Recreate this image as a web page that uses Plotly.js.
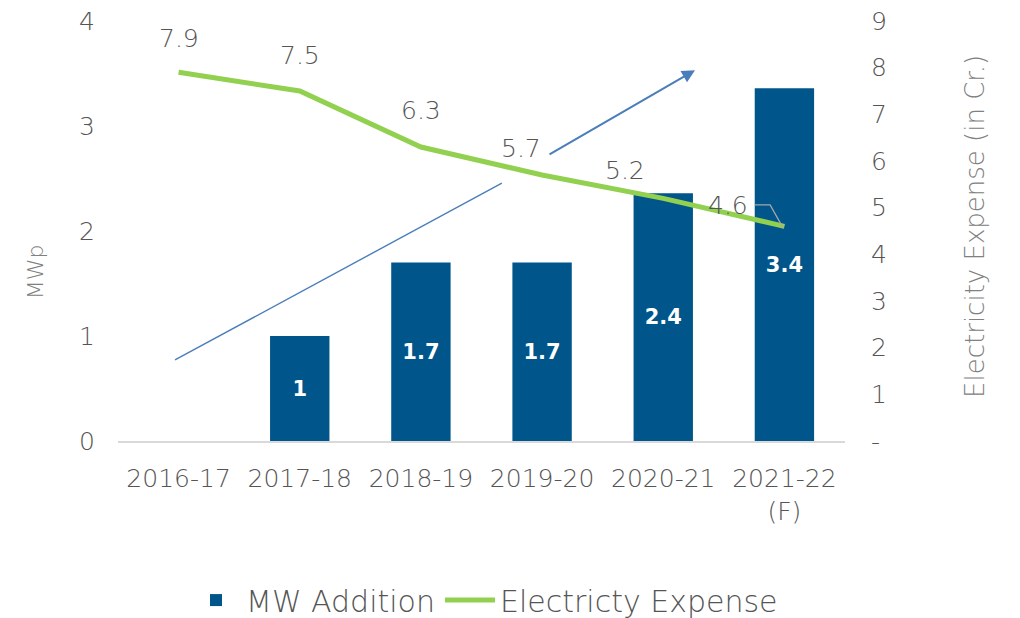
<!DOCTYPE html>
<html>
<head>
<meta charset="utf-8">
<script src="https://cdn.plot.ly/plotly-3.0.1.min.js"></script>
<style>html,body{margin:0;padding:0;background:#fff;}#chart{width:1020px;height:618px;}</style>
</head>
<body>
<div id="chart"></div>
<script>
const categories = ['2016-17', '2017-18', '2018-19', '2019-20', '2020-21', '2021-22<br>(F)'];
const mwAddition = [0, 1, 1.7, 1.7, 2.36, 3.36];
const mwLabels = ['', '1', '1.7', '1.7', '2.4', '3.4'];
const electricityExpense = [7.9, 7.5, 6.3, 5.7, 5.2, 4.6];
const expenseLabels = ['7.9', '7.5', '6.3', '5.7', '5.2', '4.6'];
const leftTicks = [0, 1, 2, 3, 4];
const rightTicks = [0, 1, 2, 3, 4, 5, 6, 7, 8, 9];
const rightTickText = ['-', '1', '2', '3', '4', '5', '6', '7', '8', '9'];

const FONT = 'DejaVu Sans';
const GREY = '#555555';
const LIGHT = 200;
// label placement (pixel shifts) for the expense data labels
const labelShift = [[0, 34], [0, 36], [0, 37], [-21, 27], [-38, 28], [-56, 21]];

const traces = [
  {
    type: 'bar', name: 'MW Addition', x: categories, y: mwAddition,
    marker: {color: '#00558A'}, width: 0.49,
    text: mwLabels, textposition: 'inside', insidetextanchor: 'middle',
    textfont: {family: FONT, size: 21, color: '#ffffff', weight: 'bold'},
    hoverinfo: 'x+y'
  },
  {
    type: 'scatter', mode: 'lines', name: 'Electricty Expense', x: categories, y: electricityExpense,
    yaxis: 'y2', line: {color: '#92D050', width: 5}
  }
];

const annotations = electricityExpense.map((v, i) => ({
  x: categories[i], y: v, xref: 'x', yref: 'y2', text: expenseLabels[i], showarrow: false,
  xshift: labelShift[i][0], yshift: labelShift[i][1],
  font: {family: FONT, size: 25, color: GREY, weight: LIGHT}
}));
annotations.push(
  {xref: 'paper', yref: 'paper', x: -0.114, y: 0.402, xanchor: 'center', yanchor: 'middle',
   text: 'MWp', textangle: -90, showarrow: false,
   font: {family: FONT, size: 22, color: '#808080', weight: LIGHT}},
  {xref: 'paper', yref: 'paper', x: 1.179, y: 0.51, xanchor: 'center', yanchor: 'middle',
   text: 'Electricity Expense (in Cr.)', textangle: -90, showarrow: false,
   font: {family: FONT, size: 26, color: '#808080', weight: LIGHT}},
  {xref: 'paper', yref: 'paper', x: 0.7937, y: 0.883, axref: 'pixel', ayref: 'pixel', ax: -147, ay: 85,
   text: '', showarrow: true, arrowhead: 2, arrowsize: 1.3, arrowwidth: 2, arrowcolor: '#4A7EBB', standoff: 0}
);

const shapes = [
  {type: 'line', xref: 'paper', yref: 'paper', x0: 0.0784, y0: 0.193, x1: 0.528, y1: 0.614,
   line: {color: '#4A7EBB', width: 1.4}},
  {type: 'path', xref: 'paper', yref: 'paper', path: 'M 0.876 0.562 L 0.897 0.562 L 0.915 0.507',
   line: {color: '#a6a6a6', width: 1.3}}
];

const layout = {
  width: 1020, height: 618,
  margin: {l: 118, r: 175, t: 21, b: 177, autoexpand: false},
  paper_bgcolor: '#ffffff', plot_bgcolor: '#ffffff',
  font: {family: FONT, color: GREY, size: 22},
  showlegend: true,
  legend: {orientation: 'h', xref: 'container', yref: 'container', x: 0.475, xanchor: 'center', y: 0.029, yanchor: 'middle',
    font: {family: FONT, size: 30, color: GREY, weight: LIGHT}, itemwidth: 50, traceorder: 'normal'},
  xaxis: {type: 'category', range: [-0.5, 5.5], showgrid: false, zeroline: false,
    showline: true, linecolor: '#d9d9d9', linewidth: 2, ticks: '', ticklabelstandoff: 14,
    tickfont: {family: FONT, size: 25, color: GREY, weight: LIGHT}},
  yaxis: {range: [0, 4], tickvals: leftTicks, showgrid: false, zeroline: false, showline: false,
    ticks: '', ticklabelstandoff: 22, tickfont: {family: FONT, size: 25, color: GREY, weight: LIGHT}},
  yaxis2: {overlaying: 'y', side: 'right', range: [0, 9], tickvals: rightTicks, ticktext: rightTickText,
    showgrid: false, zeroline: false, showline: false, ticks: '', ticklabelstandoff: 25,
    tickfont: {family: FONT, size: 25, color: GREY, weight: LIGHT}},
  annotations: annotations,
  shapes: shapes
};

Plotly.newPlot('chart', traces, layout, {displayModeBar: false, responsive: false});
</script>
</body>
</html>
